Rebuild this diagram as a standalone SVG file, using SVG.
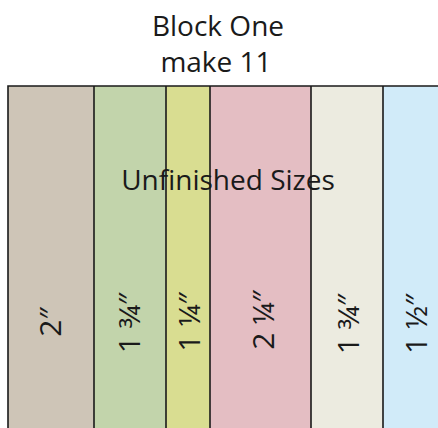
<svg xmlns="http://www.w3.org/2000/svg" width="438" height="428" viewBox="0 0 438 428">
<style>
.t{font-family:"Open Sans","Noto Sans","Liberation Sans",sans-serif;font-size:28px;fill:#1a1a1a;text-anchor:middle}
.l{font-size:30px}
.s{stroke:#1a1a1a;stroke-width:1.6}
</style>
<rect width="438" height="428" fill="#ffffff"/>
<g id="title">
<text class="t" x="218" y="36">Block One</text>
<text class="t" x="216" y="72">make 11</text>
</g>
<g id="strip1"><rect x="8" y="86" width="86" height="344" fill="#cec5b7"/></g>
<g id="strip2"><rect x="94" y="86" width="72" height="344" fill="#c2d4ab"/></g>
<g id="strip3"><rect x="166" y="86" width="44" height="344" fill="#d9dd91"/></g>
<g id="strip4"><rect x="210" y="86" width="101" height="344" fill="#e4bec3"/></g>
<g id="strip5"><rect x="311" y="86" width="72" height="344" fill="#ecebe0"/></g>
<g id="strip6"><rect x="383" y="86" width="57" height="344" fill="#d1ebf9"/></g>
<g id="heading"><text class="t" x="228" y="190">Unfinished Sizes</text></g>
<g id="lines">
<path class="s" fill="none" d="M8,430V86H440M94,86V430M166,86V430M210,86V430M311,86V430M383,86V430"/>
</g>
<g id="labels">
<text class="t l" transform="translate(61,322) rotate(-90)">2″</text>
<text class="t l" transform="translate(140,323) rotate(-90)">1 ¾″</text>
<text class="t l" transform="translate(200,322) rotate(-90)">1 ¼″</text>
<text class="t l" transform="translate(274,320) rotate(-90)">2 ¼″</text>
<text class="t l" transform="translate(359,324) rotate(-90)">1 ¾″</text>
<text class="t l" transform="translate(427,324) rotate(-90)">1 ½″</text>
</g>
</svg>
